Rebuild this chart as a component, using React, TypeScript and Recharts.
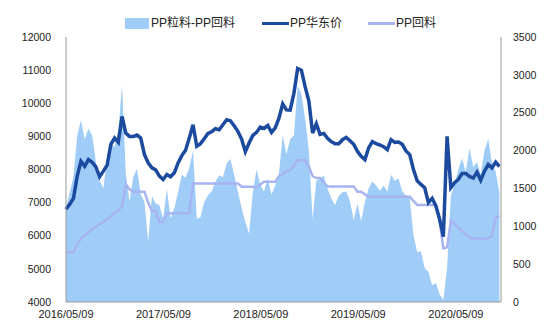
import { ComposedChart, Area, Line, XAxis, YAxis } from 'recharts';

// biweekly samples starting 2016/05/09
const price = [
  6800, 6950, 7130, 7800, 8250, 8100, 8300, 8220, 8080, 7780,
  7950, 8130, 8760, 8950, 8820, 9600, 9100, 9000, 9000, 9040,
  8950, 8450, 8200, 8050, 7990, 7800, 7700, 7850, 7780, 7900,
  8200, 8420, 8580, 8950, 9350, 8700, 8780, 8930, 9090, 9140,
  9230, 9200, 9350, 9500, 9470, 9320, 9150, 8920, 8540, 8800,
  9030, 9120, 9280, 9240, 9330, 9120, 9260, 9550, 9980, 9800,
  9790, 10300, 11050, 11000, 10500, 10070, 9100, 9380, 9060, 9090,
  8940, 8840, 8780, 8780, 8900, 8970, 8870, 8760, 8550, 8400,
  8300, 8650, 8840, 8780, 8740, 8690, 8600, 8900, 8820, 8830,
  8760, 8560, 8450, 8000, 7660, 7550, 7450, 7000, 7130, 6900,
  6500, 5970, 9000, 7450, 7600, 7700, 7880, 7880, 7790, 7740,
  7920, 7680, 7950, 8150, 8050, 8220, 8090,
];

const recycled = [
  5500, 5500, 5500, 5750, 5900, 6000, 6100, 6200, 6270, 6350,
  6420, 6500, 6580, 6700, 6780, 6880, 7550, 7400, 7330, 7330,
  7330, 7330, 7000, 6750, 6750, 6420, 6420, 6680, 6680, 6680,
  6680, 6680, 6680, 6680, 7580, 7580, 7580, 7580, 7580, 7580,
  7580, 7580, 7580, 7580, 7580, 7580, 7580, 7480, 7480, 7480,
  7480, 7450, 7550, 7630, 7630, 7630, 7630, 7800, 7850, 7950,
  7990, 8100, 8290, 8290, 8290, 8100, 7800, 7740, 7740, 7600,
  7490, 7490, 7490, 7490, 7490, 7490, 7490, 7490, 7330, 7330,
  7250, 7180, 7180, 7180, 7180, 7180, 7180, 7180, 7180, 7180,
  7180, 7180, 7180, 7050, 6930, 6930, 6930, 6930, 6930, 6930,
  6450, 5620, 5650, 6450, 6350, 6250, 6150, 6050, 5950, 5920,
  5920, 5920, 5920, 5920, 6000, 6550, 6600,
];

const spread = [
  1240, 1450, 1650, 2200, 2400, 2150, 2290, 2200, 1850, 1600,
  1500, 1900, 2100, 2050, 2250, 2870, 1700, 1330, 1650, 1760,
  1420, 1320, 800, 1400, 1300, 1280, 1100, 1500, 1100, 1240,
  1450, 1680, 1640, 1770, 2000, 1100, 1120, 1320, 1410, 1460,
  1590, 1670, 1650, 1830, 1890, 1680, 1460, 1240, 1060, 900,
  1450, 1750, 1550, 1460, 1630, 1420, 1540, 1700, 2200, 1950,
  2150, 2200, 2850, 2750, 2420, 2000, 1100, 1600, 1630, 1670,
  1500, 1370, 1280, 1400, 1450, 1460, 1330, 1080, 1300, 1070,
  1320, 1500, 1590, 1540, 1470, 1540, 1460, 1680, 1600, 1630,
  1460, 1410, 1370, 880, 660, 670, 450, 400, 220, 250,
  100, 30, 450, 1400, 1560, 1750, 1900, 1720, 2030, 1780,
  1850, 1680, 2000, 2150, 1850, 1720, 1450,
];

const tickDays = [0, 365, 730, 1095, 1461];
const tickLabels = ['2016/05/09', '2017/05/09', '2018/05/09', '2019/05/09', '2020/05/09'];
const leftTicks = [4000, 5000, 6000, 7000, 8000, 9000, 10000, 11000, 12000];
const rightTicks = [0, 500, 1000, 1500, 2000, 2500, 3000, 3500];

const data = price.map((p, i) => ({
  day: i * 14,
  price: p,
  recycled: recycled[i],
  spread: spread[i],
}));

const FONT = '"Liberation Sans", Arial, "Noto Sans CJK SC", sans-serif';
const AREA_COLOR = '#9fcdf7';
const DARK_COLOR = '#1b4a9e';
const LIGHT_COLOR = '#a8b4f2';
const AXIS_COLOR = '#9a9a9a';

function LegendBar() {
  const text = { fontSize: 12, color: '#222', lineHeight: '14px' };
  return (
    <div style={{ position: 'absolute', left: 0, top: 16, width: 550, height: 16, fontFamily: FONT }}>
      <div style={{ position: 'absolute', left: 125, top: 2, width: 24, height: 11, background: AREA_COLOR }} />
      <div style={{ position: 'absolute', left: 151, top: 0, ...text }}>PP粒料-PP回料</div>
      <div style={{ position: 'absolute', left: 262, top: 6, width: 27, height: 3, background: DARK_COLOR }} />
      <div style={{ position: 'absolute', left: 290, top: 0, ...text }}>PP华东价</div>
      <div style={{ position: 'absolute', left: 368, top: 6, width: 27, height: 3, background: LIGHT_COLOR }} />
      <div style={{ position: 'absolute', left: 396, top: 0, ...text }}>PP回料</div>
    </div>
  );
}

export default function App() {
  return (
    <div style={{ position: 'absolute', left: 0, top: 0, width: 550, height: 326, background: '#fff' }}>
      <LegendBar />
      <ComposedChart
        width={550}
        height={326}
        data={data}
        margin={{ top: 37, right: 0, bottom: 0, left: 0 }}
        style={{ fontFamily: FONT }}
      >
        <XAxis
          dataKey="day"
          type="number"
          domain={[0, 1630]}
          ticks={tickDays}
          tickFormatter={(v) => tickLabels[tickDays.indexOf(v)] ?? ''}
          height={24}
          tickLine={false}
          tickMargin={2}
          stroke={AXIS_COLOR}
          tick={{ fill: '#222', fontSize: 11 }}
          interval={0}
        />
        <YAxis
          yAxisId="left"
          domain={[4000, 12000]}
          ticks={leftTicks}
          width={66}
          tickLine={false}
          tickMargin={9}
          stroke={AXIS_COLOR}
          tick={{ fill: '#222', fontSize: 10.5 }}
          interval={0}
        />
        <YAxis
          yAxisId="right"
          orientation="right"
          domain={[0, 3500]}
          ticks={rightTicks}
          width={49}
          tickLine={false}
          tickMargin={6}
          stroke={AXIS_COLOR}
          tick={{ fill: '#222', fontSize: 10.5 }}
          interval={0}
        />
        <Area
          yAxisId="right"
          dataKey="spread"
          type="linear"
          fill={AREA_COLOR}
          fillOpacity={1}
          stroke="none"
          isAnimationActive={false}
        />
        <Line
          yAxisId="left"
          dataKey="recycled"
          type="linear"
          stroke={LIGHT_COLOR}
          strokeWidth={2.5}
          dot={false}
          isAnimationActive={false}
        />
        <Line
          yAxisId="left"
          dataKey="price"
          type="linear"
          stroke={DARK_COLOR}
          strokeWidth={3.5}
          dot={false}
          isAnimationActive={false}
        />
      </ComposedChart>
    </div>
  );
}
